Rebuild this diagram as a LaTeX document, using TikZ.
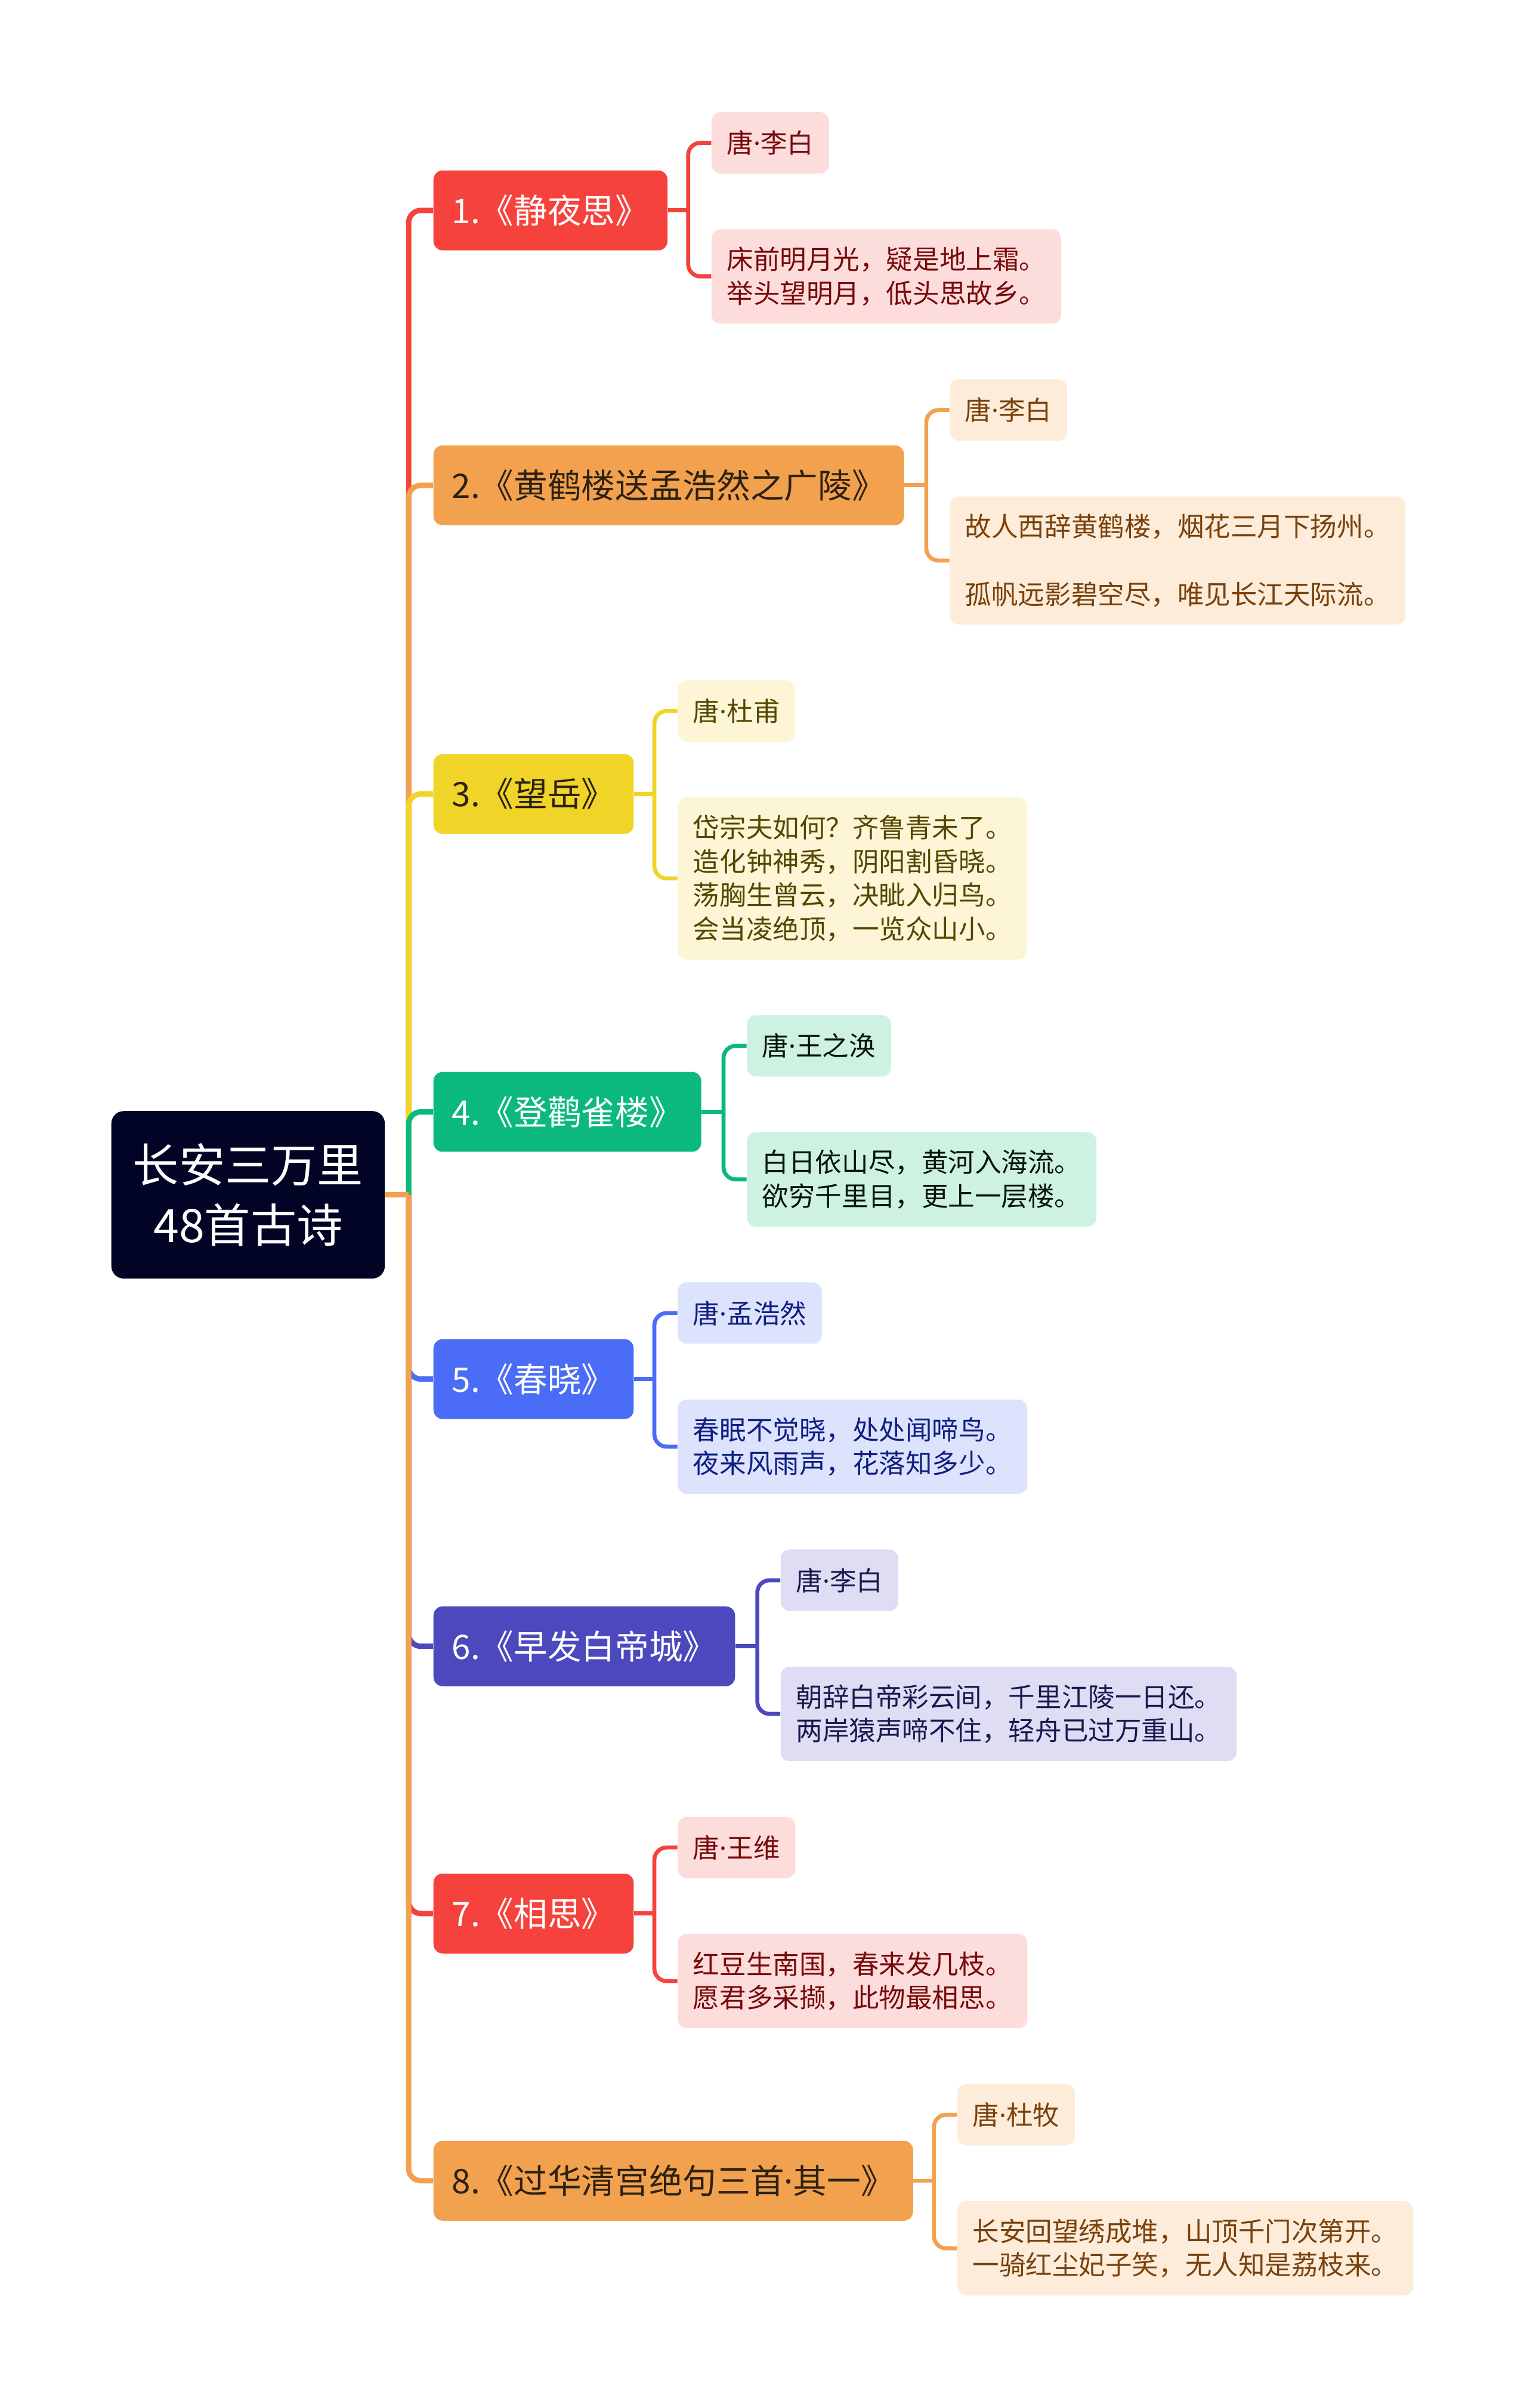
\documentclass[tikz,border=0pt]{standalone}
\usepackage{fontspec}
\setmainfont{Noto Sans CJK SC}
\newfontfamily\dotfont{Noto Sans}
\newcommand{\pdot}{{\dotfont ·}}
\usepackage{tikz}
\definecolor{rootnavy}{RGB}{2,4,38}
\definecolor{poemred}{RGB}{245,66,60}
\definecolor{poemorange}{RGB}{242,161,78}
\definecolor{poemyellow}{RGB}{240,212,40}
\definecolor{poemgreen}{RGB}{12,185,125}
\definecolor{poemblue}{RGB}{74,108,247}
\definecolor{poemindigo}{RGB}{76,72,190}
\definecolor{darkink}{RGB}{45,33,18}
\definecolor{leafred}{RGB}{253,220,220}
\definecolor{leaforange}{RGB}{253,236,218}
\definecolor{leafyellow}{RGB}{252,246,214}
\definecolor{leafgreen}{RGB}{206,242,226}
\definecolor{leafblue}{RGB}{221,227,253}
\definecolor{leafindigo}{RGB}{222,221,243}
\definecolor{inkred}{RGB}{120,10,10}
\definecolor{inkorange}{RGB}{122,66,12}
\definecolor{inkyellow}{RGB}{85,70,0}
\definecolor{inkgreen}{RGB}{5,20,12}
\definecolor{inkblue}{RGB}{15,30,130}
\definecolor{inkindigo}{RGB}{25,25,80}

\begin{document}
\begin{tikzpicture}[x=1pt,y=-1pt,
  root/.style={rounded corners=8pt,fill=rootnavy,text=white,align=center,minimum width=178pt,minimum height=109pt,inner sep=0pt,font=\fontsize{30}{39}\selectfont},
  branch/.style={rounded corners=6pt,anchor=west,inner xsep=12pt,inner ysep=0pt,minimum height=52pt,font=\fontsize{22}{26}\selectfont},
  leaf/.style={rounded corners=6pt,anchor=west,inner xsep=10pt,inner ysep=11.5pt,minimum height=40pt,align=left,font=\fontsize{17.3}{22}\selectfont},
  trunk/.style={line width=3.5pt,rounded corners=8pt},
  twig/.style={line width=2.6pt,rounded corners=8pt}]
\useasboundingbox (0,0) rectangle (994,1568);
% root and hub
\node[root] (root) at (161.5,778) {长安三万里\\48首古诗};
\coordinate (hub) at (266,778);
% poems
\node[branch,fill=poemred,text=white] (p1) at (282,137) {1.《静夜思》};
\node[branch,fill=poemorange,text=darkink] (p2) at (282,316) {2.《黄鹤楼送孟浩然之广陵》};
\node[branch,fill=poemyellow,text=darkink] (p3) at (282,517) {3.《望岳》};
\node[branch,fill=poemgreen,text=white] (p4) at (282,724) {4.《登鹳雀楼》};
\node[branch,fill=poemblue,text=white] (p5) at (282,898) {5.《春晓》};
\node[branch,fill=poemindigo,text=white] (p6) at (282,1072) {6.《早发白帝城》};
\node[branch,fill=poemred,text=white] (p7) at (282,1246) {7.《相思》};
\node[branch,fill=poemorange,text=darkink] (p8) at (282,1420) {8.《过华清宫绝句三首\pdot 其一》};
\draw[trunk,poemred] (hub) |- (p1.west);
\draw[trunk,poemorange] (hub) |- (p2.west);
\draw[trunk,poemyellow] (hub) |- (p3.west);
\draw[trunk,poemgreen] (hub) |- (p4.west);
\draw[trunk,poemblue] (hub) |- (p5.west);
\draw[trunk,poemindigo] (hub) |- (p6.west);
\draw[trunk,poemred] (hub) |- (p7.west);
\draw[trunk,poemorange] (hub) |- (p8.west);
\draw[trunk,poemorange] (root.east) -- (hub);
% 1
\node[leaf,fill=leafred,text=inkred] (p1a) at (463,93) {唐\pdot 李白};
\node[leaf,fill=leafred,text=inkred] (p1b) at (463,180) {床前明月光，疑是地上霜。\\举头望明月，低头思故乡。};
\coordinate (j1) at (448,137);
\draw[twig,poemred] (p1.east) -- (j1);
\draw[twig,poemred] (j1) |- (p1a.west);
\draw[twig,poemred] (j1) |- (p1b.west);
% 2
\node[leaf,fill=leaforange,text=inkorange] (p2a) at (618,267) {唐\pdot 李白};
\node[leaf,fill=leaforange,text=inkorange] (p2b) at (618,365) {故人西辞黄鹤楼，烟花三月下扬州。\\[22pt]孤帆远影碧空尽，唯见长江天际流。};
\coordinate (j2) at (603,316);
\draw[twig,poemorange] (p2.east) -- (j2);
\draw[twig,poemorange] (j2) |- (p2a.west);
\draw[twig,poemorange] (j2) |- (p2b.west);
% 3
\node[leaf,fill=leafyellow,text=inkyellow] (p3a) at (441,463) {唐\pdot 杜甫};
\node[leaf,fill=leafyellow,text=inkyellow] (p3b) at (441,572) {岱宗夫如何？齐鲁青未了。\\造化钟神秀，阴阳割昏晓。\\荡胸生曾云，决眦入归鸟。\\会当凌绝顶，一览众山小。};
\coordinate (j3) at (426,517);
\draw[twig,poemyellow] (p3.east) -- (j3);
\draw[twig,poemyellow] (j3) |- (p3a.west);
\draw[twig,poemyellow] (j3) |- (p3b.west);
% 4
\node[leaf,fill=leafgreen,text=inkgreen] (p4a) at (486,681) {唐\pdot 王之涣};
\node[leaf,fill=leafgreen,text=inkgreen] (p4b) at (486,768) {白日依山尽，黄河入海流。\\欲穷千里目，更上一层楼。};
\coordinate (j4) at (471,724);
\draw[twig,poemgreen] (p4.east) -- (j4);
\draw[twig,poemgreen] (j4) |- (p4a.west);
\draw[twig,poemgreen] (j4) |- (p4b.west);
% 5
\node[leaf,fill=leafblue,text=inkblue] (p5a) at (441,855) {唐\pdot 孟浩然};
\node[leaf,fill=leafblue,text=inkblue] (p5b) at (441,942) {春眠不觉晓，处处闻啼鸟。\\夜来风雨声，花落知多少。};
\coordinate (j5) at (426,898);
\draw[twig,poemblue] (p5.east) -- (j5);
\draw[twig,poemblue] (j5) |- (p5a.west);
\draw[twig,poemblue] (j5) |- (p5b.west);
% 6
\node[leaf,fill=leafindigo,text=inkindigo] (p6a) at (508,1029) {唐\pdot 李白};
\node[leaf,fill=leafindigo,text=inkindigo] (p6b) at (508,1116) {朝辞白帝彩云间，千里江陵一日还。\\两岸猿声啼不住，轻舟已过万重山。};
\coordinate (j6) at (493,1072);
\draw[twig,poemindigo] (p6.east) -- (j6);
\draw[twig,poemindigo] (j6) |- (p6a.west);
\draw[twig,poemindigo] (j6) |- (p6b.west);
% 7
\node[leaf,fill=leafred,text=inkred] (p7a) at (441,1203) {唐\pdot 王维};
\node[leaf,fill=leafred,text=inkred] (p7b) at (441,1290) {红豆生南国，春来发几枝。\\愿君多采撷，此物最相思。};
\coordinate (j7) at (426,1246);
\draw[twig,poemred] (p7.east) -- (j7);
\draw[twig,poemred] (j7) |- (p7a.west);
\draw[twig,poemred] (j7) |- (p7b.west);
% 8
\node[leaf,fill=leaforange,text=inkorange] (p8a) at (623,1377) {唐\pdot 杜牧};
\node[leaf,fill=leaforange,text=inkorange] (p8b) at (623,1464) {长安回望绣成堆，山顶千门次第开。\\一骑红尘妃子笑，无人知是荔枝来。};
\coordinate (j8) at (608,1420);
\draw[twig,poemorange] (p8.east) -- (j8);
\draw[twig,poemorange] (j8) |- (p8a.west);
\draw[twig,poemorange] (j8) |- (p8b.west);
\end{tikzpicture}
\end{document}
